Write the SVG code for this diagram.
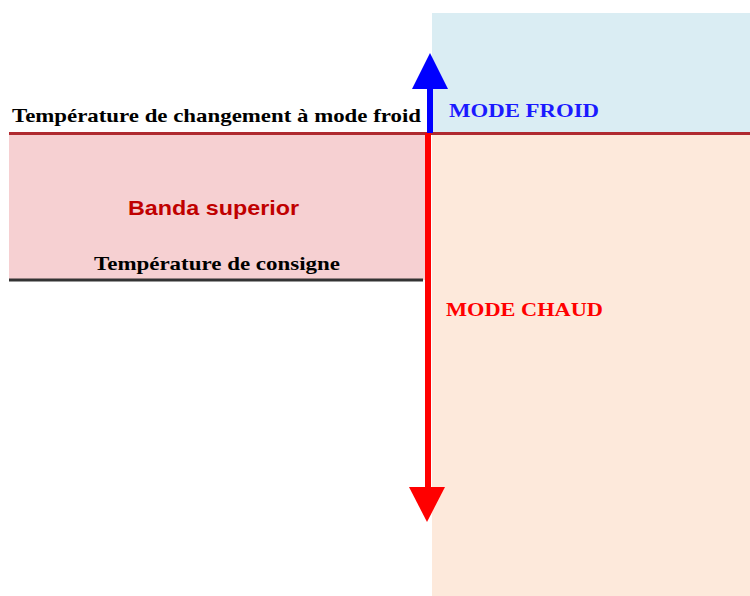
<svg xmlns="http://www.w3.org/2000/svg" width="750" height="596" viewBox="0 0 750 596">
  <style>
    .serif { font-family: "Liberation Serif", "Times New Roman", serif; font-weight: bold; }
    .sans { font-family: "Liberation Sans", Arial, sans-serif; font-weight: bold; }
  </style>
  <rect width="750" height="596" fill="#ffffff"/>
  <!-- Zones -->
  <g id="zone-froid"><rect x="432" y="13" width="318" height="120" fill="#daedf3"/></g>
  <g id="zone-chaud"><rect x="432" y="133" width="318" height="463" fill="#fde9db"/></g>
  <g id="bande-superieure">
    <rect x="9" y="133" width="416" height="147" fill="#f6d0d2"/>
    <text class="sans" x="128" y="215" font-size="21" fill="#c00000" textLength="171" lengthAdjust="spacingAndGlyphs">Banda superior</text>
  </g>
  <!-- Threshold lines and labels -->
  <g id="seuil-froid">
    <line x1="9" y1="133.5" x2="750" y2="133.5" stroke="#b02a30" stroke-width="3"/>
    <text class="serif" x="12" y="122" font-size="19" fill="#000" textLength="409" lengthAdjust="spacingAndGlyphs">Température de changement à mode froid</text>
  </g>
  <g id="consigne">
    <line x1="9" y1="280" x2="423" y2="280" stroke="#333333" stroke-width="3"/>
    <text class="serif" x="94" y="270" font-size="19" fill="#000" textLength="246" lengthAdjust="spacingAndGlyphs">Température de consigne</text>
  </g>
  <g id="labels-modes">
    <text class="serif" x="449" y="117" font-size="19" fill="#1a1aff" textLength="150" lengthAdjust="spacingAndGlyphs">MODE FROID</text>
    <text class="serif" x="446" y="316" font-size="19" fill="#ff0000" textLength="157" lengthAdjust="spacingAndGlyphs">MODE CHAUD</text>
  </g>
  <!-- Connectors -->
  <g id="connectors">
    <line x1="430" y1="133" x2="430" y2="88" stroke="#0000ff" stroke-width="6"/>
    <polygon points="412,89 448,89 430,53" fill="#0000ff"/>
    <line x1="428" y1="133" x2="428" y2="488" stroke="#ff0000" stroke-width="6"/>
    <polygon points="409,487 445,487 427,522" fill="#ff0000"/>
  </g>
</svg>
